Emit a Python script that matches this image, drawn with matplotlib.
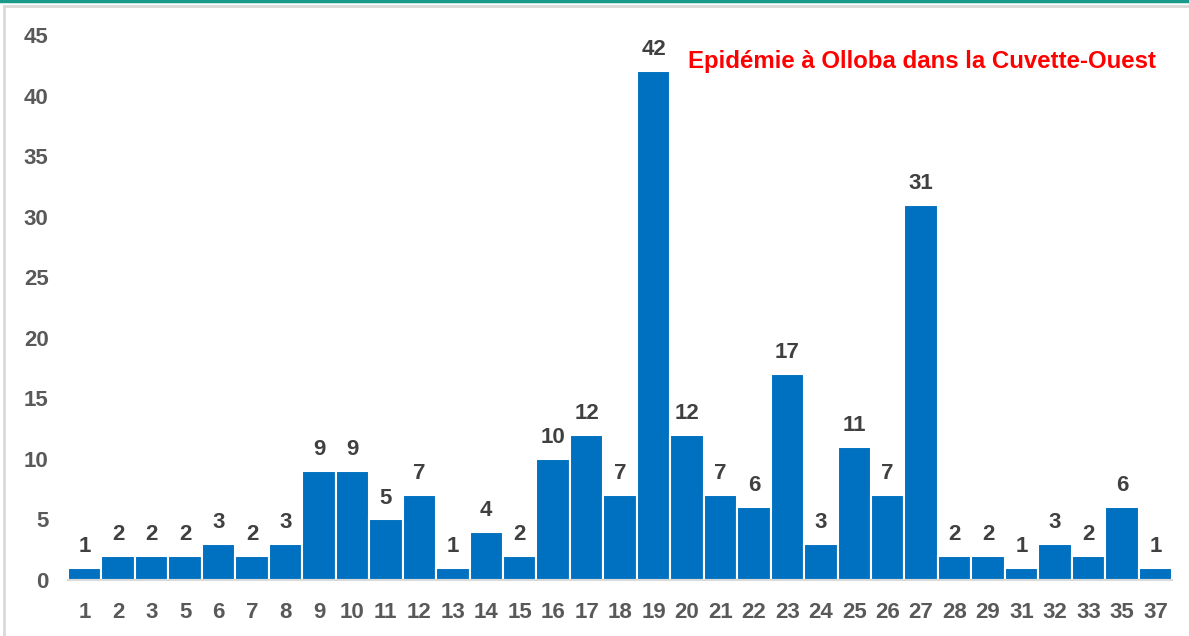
import matplotlib.pyplot as plt
from matplotlib.lines import Line2D

plt.rcParams['font.family'] = ['Liberation Sans', 'DejaVu Sans']

# data
weeks = ['1', '2', '3', '5', '6', '7', '8', '9', '10', '11', '12', '13', '14', '15',
         '16', '17', '18', '19', '20', '21', '22', '23', '24', '25', '26', '27', '28',
         '29', '31', '32', '33', '35', '37']
cases = [1, 2, 2, 2, 3, 2, 3, 9, 9, 5, 7, 1, 4, 2, 10, 12, 7, 42, 12, 7, 6, 17, 3,
         11, 7, 31, 2, 2, 1, 3, 2, 6, 1]
title = 'Epidémie à Olloba dans la Cuvette-Ouest'

fig = plt.figure(figsize=(11.89, 6.36), dpi=100)
ax = fig.add_axes([0.0572, 0.088, 0.9286, 0.857])

x = range(len(weeks))
bars = ax.bar(x, cases, width=1.0, color='#0070C0', edgecolor='white', linewidth=1.5)
for xi, v in zip(x, cases):
    ax.text(xi, v + 0.9, str(v), ha='center', va='bottom', fontsize=16,
            fontweight='bold', color='#404040')

ax.set_xlim(-0.5, len(weeks) - 0.5)
ax.set_ylim(0, 45)
ax.set_yticks(range(0, 46, 5))
ax.set_xticks(list(x))
ax.set_xticklabels(weeks)
ax.tick_params(axis='both', length=0, labelsize=16, labelcolor='#595959')
ax.tick_params(axis='x', pad=16)
ax.tick_params(axis='y', pad=14)
for lab in ax.get_xticklabels() + ax.get_yticklabels():
    lab.set_fontweight('bold')

for s in ['top', 'right', 'left']:
    ax.spines[s].set_visible(False)
ax.spines['bottom'].set_color('#d9d9d9')
ax.spines['bottom'].set_linewidth(1.5)

ax.text(0.985, 0.951, title, transform=ax.transAxes, ha='right', va='center',
        fontsize=17.3, fontweight='bold', color='#ff0000')

# frame lines from the original slide
fig.add_artist(Line2D([0, 1], [0.998, 0.998], color='#1a9a8a', linewidth=2.5,
                      transform=fig.transFigure))
fig.add_artist(Line2D([0.003, 1], [0.991, 0.991], color='#d9d9d9', linewidth=2,
                      transform=fig.transFigure))
fig.add_artist(Line2D([0.003, 0.003], [0, 0.991], color='#d9d9d9', linewidth=2,
                      transform=fig.transFigure))

fig.savefig('out.png', dpi=100)
